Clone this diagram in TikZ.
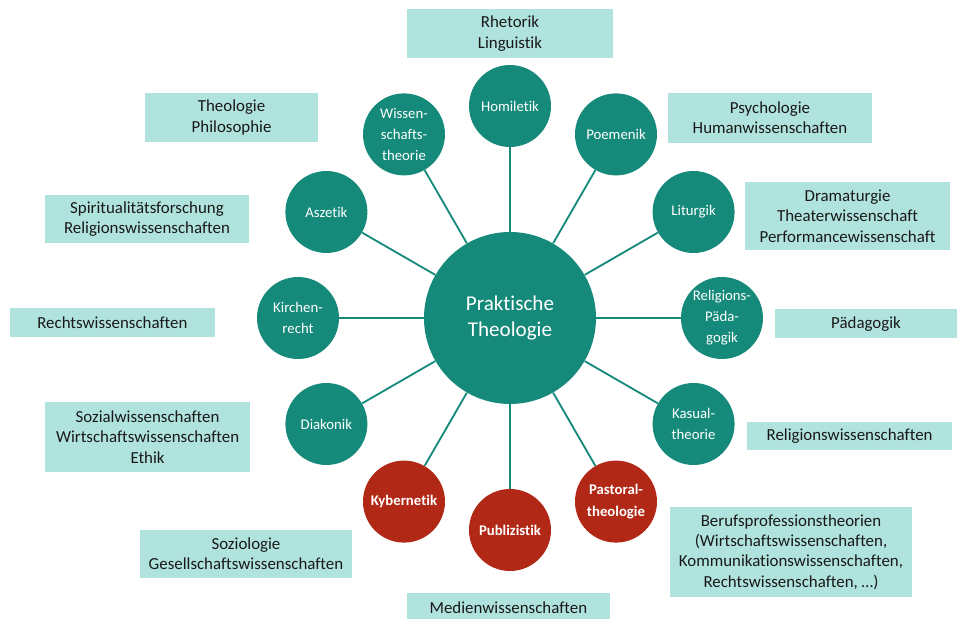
\documentclass[tikz,border=0pt]{standalone}
\usepackage{fontspec}
\setmainfont{Carlito}[Ligatures=NoCommon]
\definecolor{ptTeal}{RGB}{22,138,122}
\definecolor{ptRed}{RGB}{178,40,22}
\definecolor{ptField}{RGB}{176,227,221}
\definecolor{ptText}{RGB}{25,25,25}

\begin{document}
\begin{tikzpicture}[
  hub/.style={circle,fill=ptTeal,text=white,minimum size=4.3cm,align=center,font=\fontsize{15}{18}\selectfont},
  sub/.style={circle,fill=ptTeal,text=white,minimum size=2.05cm,inner sep=0pt,align=center,font=\fontsize{10.5}{15}\selectfont},
  subred/.style={sub,fill=ptRed,font=\fontsize{10.5}{15}\selectfont\bfseries},
  field/.style={fill=ptField,text=ptText,align=center,inner sep=0pt,font=\fontsize{12}{14.5}\selectfont},
  spoke/.style={ptTeal,line width=1.3pt}]
\useasboundingbox (-12.75,-7.525) rectangle (11.35,7.95);

% hub and the twelve subdisciplines around it
\node[hub] (pt) at (0,0) {Praktische\\Theologie};
\node[sub] (hom) at (90:5.3) {Homiletik};
\node[sub] (poe) at (60:5.3) {Poemenik};
\node[sub] (lit) at (30:5.3) {Liturgik};
\node[sub] (relpaed) at (0:5.3) {Religions-\\Päda-\\gogik};
\node[sub] (kas) at (-30:5.3) {Kasual-\\theorie};
\node[subred] (past) at (-60:5.3) {Pastoral-\\theologie};
\node[subred] (pub) at (-90:5.3) {Publizistik};
\node[subred] (kyb) at (-120:5.3) {Kybernetik};
\node[sub] (dia) at (-150:5.3) {Diakonik};
\node[sub] (kir) at (180:5.3) {Kirchen-\\recht};
\node[sub] (asz) at (150:5.3) {Aszetik};
\node[sub] (wiss) at (120:5.3) {Wissen-\\schafts-\\theorie};

\draw[spoke] (pt) -- (hom);
\draw[spoke] (pt) -- (poe);
\draw[spoke] (pt) -- (lit);
\draw[spoke] (pt) -- (relpaed);
\draw[spoke] (pt) -- (kas);
\draw[spoke] (pt) -- (past);
\draw[spoke] (pt) -- (pub);
\draw[spoke] (pt) -- (kyb);
\draw[spoke] (pt) -- (dia);
\draw[spoke] (pt) -- (kir);
\draw[spoke] (pt) -- (asz);
\draw[spoke] (pt) -- (wiss);

% neighbouring disciplines
\node[field,minimum width=5.125cm,minimum height=1.225cm] (rhetorik) at (0,7.11) {Rhetorik\\Linguistik};
\node[field,minimum width=4.325cm,minimum height=1.225cm] (philo) at (-6.96,5.01) {Theologie\\Philosophie};
\node[field,minimum width=5.1cm,minimum height=1.25cm] (psych) at (6.5,5.0) {Psychologie\\Humanwissenschaften};
\node[field,minimum width=5.1cm,minimum height=1.2cm] (spirit) at (-9.075,2.475) {Spiritualitätsforschung\\Religionswissenschaften};
\node[field,minimum width=5.125cm,minimum height=1.7cm] (drama) at (8.44,2.55) {Dramaturgie\\Theaterwissenschaft\\Performancewissenschaft};
\node[field,minimum width=5.125cm,minimum height=0.725cm] (recht) at (-9.94,-0.11) {Rechtswissenschaften};
\node[field,minimum width=4.55cm,minimum height=0.725cm] (paed) at (8.9,-0.14) {Pädagogik};
\node[field,minimum width=5.125cm,minimum height=1.75cm] (sozial) at (-9.06,-2.975) {Sozialwissenschaften\\Wirtschaftswissenschaften\\Ethik};
\node[field,minimum width=5.125cm,minimum height=0.7cm] (relwiss) at (8.49,-2.95) {Religionswissenschaften};
\node[field,minimum width=5.3cm,minimum height=1.2cm] (sozio) at (-6.6,-5.9) {Soziologie\\Gesellschaftswissenschaften};
\node[field,minimum width=5.075cm,minimum height=0.75cm] (medien) at (-0.04,-7.25) {Medienwissenschaften};
\node[field,minimum width=6.05cm,minimum height=2.25cm] (beruf) at (7.025,-5.85) {Berufsprofessionstheorien\\(Wirtschaftswissenschaften,\\Kommunikationswissenschaften,\\Rechtswissenschaften, \dots)};
\end{tikzpicture}
\end{document}
